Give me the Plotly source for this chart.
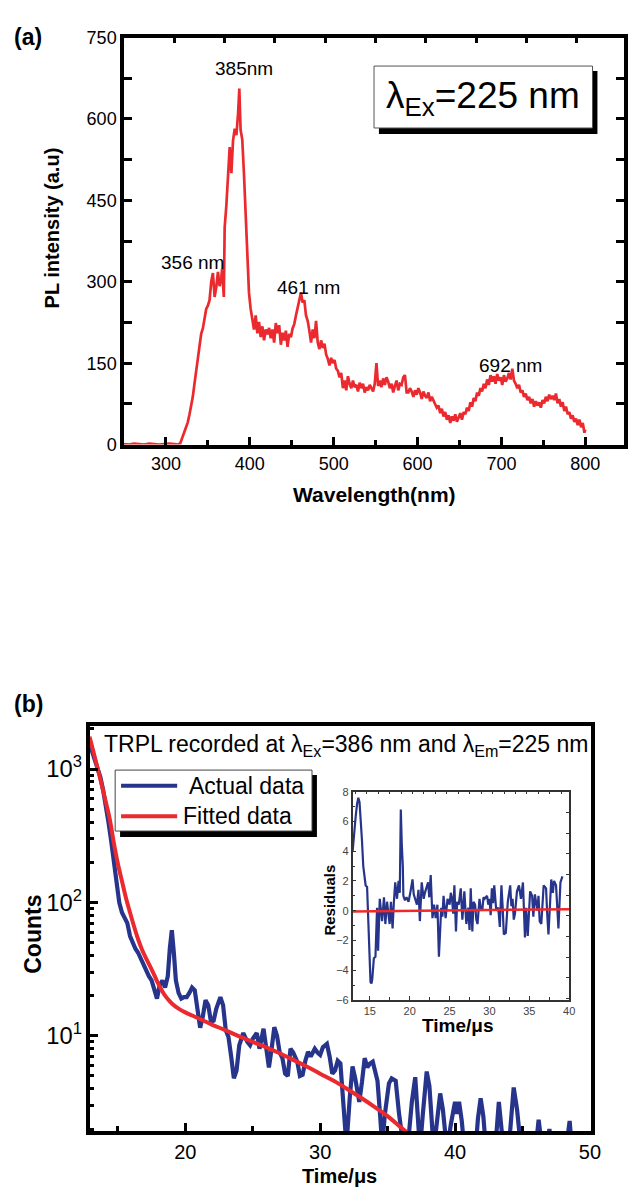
import plotly.graph_objects as go

W, H = 635, 1197
FONT = "Liberation Sans, Arial, sans-serif"

# ---------------- (a) PL emission spectrum, excitation at 225 nm ----------------
pl_spectrum = [
    (250, 1), (256, 0), (262, 2), (268, 1), (274, 0), (280, 2), (286, 1), (292, 0),
    (298, 1), (304, 2), (310, 1), (314, 0), (317, 2),
    (320, 14), (322, 24), (324, 33), (326, 41), (328, 55), (330, 70), (332, 88),
    (334, 112), (336, 136), (338, 166), (340, 188), (342, 204), (344, 214), (346, 236),
    (348, 250), (350, 256), (352, 266), (354, 300), (356, 316), (358, 272), (360, 290),
    (362, 318), (364, 292), (366, 308), (367, 324), (369, 272), (370, 400), (372, 440),
    (374, 486), (376, 548), (378, 500), (380, 560), (382, 582), (384, 570), (386, 610),
    (387.5, 656), (389, 580), (391, 562), (393, 500), (395, 420), (397, 360), (399, 280),
    (401, 250), (403, 232), (405, 212), (407, 238), (409, 205), (411, 226), (413, 198),
    (415, 218), (417, 192), (419, 212), (421, 203), (423, 215), (425, 196), (427, 212),
    (429, 188), (431, 224), (433, 205), (435, 220), (437, 184), (439, 206), (441, 192),
    (443, 210), (445, 180), (447, 204), (449, 198), (451, 214), (453, 222), (455, 238),
    (457, 252), (459, 262), (461, 280), (463, 262), (465, 266), (467, 238), (469, 228),
    (471, 210), (473, 188), (475, 212), (477, 196), (479, 228), (481, 188), (483, 176),
    (485, 192), (487, 178), (489, 186), (491, 166), (493, 158), (495, 146), (497, 160),
    (499, 150), (501, 156), (503, 140), (505, 136), (507, 124), (509, 132), (511, 104),
    (513, 118), (515, 100), (517, 126), (519, 112), (521, 104), (523, 118), (525, 106),
    (527, 110), (529, 98), (531, 114), (533, 104), (535, 112), (537, 96), (539, 106),
    (541, 100), (543, 110), (545, 104), (547, 98), (549, 112), (551, 150), (553, 108),
    (555, 118), (557, 106), (559, 122), (561, 110), (563, 124), (565, 116), (567, 104),
    (569, 112), (571, 96), (573, 108), (575, 118), (577, 100), (579, 112), (581, 110),
    (583, 124), (585, 128), (587, 96), (589, 96), (591, 104), (593, 98), (595, 88),
    (597, 100), (599, 92), (601, 104), (603, 96), (605, 84), (607, 98), (609, 90),
    (611, 86), (613, 96), (615, 80), (617, 88), (619, 82), (621, 76), (623, 68),
    (625, 72), (627, 58), (629, 66), (631, 52), (633, 60), (635, 46), (637, 54),
    (639, 40), (641, 52), (643, 44), (645, 56), (647, 42), (649, 50), (651, 58),
    (653, 46), (655, 60), (657, 56), (659, 68), (661, 62), (663, 78), (665, 70),
    (667, 86), (669, 80), (671, 96), (673, 90), (675, 104), (677, 98), (679, 112),
    (681, 104), (683, 120), (685, 110), (687, 128), (689, 116), (691, 126), (693, 112),
    (695, 130), (697, 118), (699, 124), (701, 110), (703, 128), (705, 116), (707, 122),
    (709, 132), (711, 120), (713, 140), (715, 118), (717, 112), (719, 104), (721, 110),
    (723, 96), (725, 100), (727, 88), (729, 94), (731, 82), (733, 88), (735, 76),
    (737, 84), (739, 70), (741, 80), (743, 72), (745, 78), (747, 68), (749, 82),
    (751, 76), (753, 88), (755, 80), (757, 92), (759, 84), (761, 90), (763, 82),
    (765, 94), (767, 76), (769, 84), (771, 70), (773, 78), (775, 62), (777, 70),
    (779, 56), (781, 60), (783, 48), (785, 54), (787, 42), (789, 48), (791, 36),
    (793, 46), (795, 32), (797, 40), (799, 22), (800, 28),
]
wavelength_nm = [p[0] for p in pl_spectrum]
pl_intensity = [p[1] for p in pl_spectrum]

peak_labels = ["385nm", "356 nm", "461 nm", "692 nm"]

# ---------------- (b) TRPL decay ----------------
trpl_actual = [
    (12.9, 1550), (13.1, 1350), (13.3, 1120), (13.5, 980), (13.7, 870), (13.9, 700),
    (14.1, 550), (14.3, 400), (14.5, 290), (14.7, 200), (14.9, 130), (15.1, 100),
    (15.3, 84), (15.5, 76), (15.7, 70), (15.9, 56), (16.1, 49), (16.3, 45), (16.5, 42),
    (16.7, 38), (16.9, 34), (17.1, 30), (17.3, 28), (17.5, 26), (17.7, 22), (17.9, 19),
    (18.1, 24), (18.3, 26), (18.5, 23), (18.7, 28), (18.85, 45), (19.0, 62), (19.15, 42),
    (19.3, 26), (19.5, 21), (19.7, 19), (19.9, 19.5), (20.1, 19.5), (20.3, 21), (20.5, 23),
    (20.7, 22), (20.9, 15), (21.1, 11.5), (21.3, 14), (21.5, 18.5), (21.7, 17), (21.9, 12.8),
    (22.1, 13), (22.3, 16), (22.6, 19.5), (22.8, 17), (23.0, 11), (23.2, 9.8), (23.4, 7),
    (23.6, 4.8), (23.8, 5.5), (24.0, 8.5), (24.3, 10.5), (24.6, 9), (24.8, 8.5), (25.0, 9.5),
    (25.3, 10.5), (25.5, 8), (25.8, 11.3), (26.0, 8), (26.2, 5.8), (26.4, 8), (26.6, 11.6),
    (26.8, 10), (27.0, 7.5), (27.2, 6.8), (27.4, 5.2), (27.6, 5), (27.8, 8), (28.0, 7.5),
    (28.3, 6.4), (28.5, 5), (28.7, 5.1), (28.9, 6.5), (29.1, 7.6), (29.3, 7), (29.6, 8),
    (29.8, 7.5), (30.0, 7.2), (30.2, 8.2), (30.5, 8.7), (30.7, 7), (30.9, 5.2), (31.1, 5.5),
    (31.3, 6.5), (31.5, 6.2), (31.7, 3.5), (31.95, 1.5), (32.2, 3.5), (32.4, 5.9), (32.6, 4.8),
    (32.9, 3.2), (33.1, 4.5), (33.3, 6.8), (33.5, 5.8), (33.7, 6.2), (33.9, 6.4), (34.1, 5.2),
    (34.25, 4.6), (34.45, 2.5), (34.6, 1.5), (34.8, 2.6), (35.1, 4.4), (35.3, 4.8), (35.6, 4.6),
    (35.85, 2.6), (36.1, 1.5), (36.3, 1.2), (36.5, 1.5), (36.8, 3.2), (37.05, 4.9), (37.25, 2.8),
    (37.4, 1.4), (37.6, 2.5), (37.9, 5.4), (38.1, 4.2), (38.4, 1.5), (38.6, 2.0), (38.9, 3.7),
    (39.1, 2.8), (39.4, 1.4), (39.7, 2.2), (40.0, 3.2), (40.15, 2.6), (40.3, 3.2), (40.5, 2.3),
    (40.7, 1.4), (41.0, 1.2), (41.5, 1.3), (41.7, 2.4), (41.9, 3.4), (42.1, 2.5), (42.3, 1.4),
    (42.7, 1.2), (43.0, 1.5), (43.25, 3.2), (43.45, 2.2), (43.6, 1.4), (44.0, 1.5), (44.2, 3.0),
    (44.35, 4.1), (44.6, 2.8), (44.9, 1.4), (45.3, 1.2), (45.8, 1.3), (46.0, 1.5), (46.2, 2.35),
    (46.4, 1.6), (46.6, 1.2), (46.8, 1.5), (47.0, 2.0), (47.2, 1.4), (47.6, 1.2), (48.0, 1.3),
    (48.3, 1.6), (48.5, 2.3), (48.7, 1.3),
]
time_us = [p[0] for p in trpl_actual]
counts_actual = [p[1] for p in trpl_actual]

trpl_fit = [
    (12.9, 1750), (13.2, 1330), (13.5, 1010), (13.8, 760), (14.1, 570), (14.4, 420),
    (14.7, 280), (15.0, 195), (15.3, 145), (15.6, 108), (15.9, 84), (16.2, 66), (16.5, 53),
    (16.8, 44), (17.1, 38), (17.4, 33), (17.7, 28.5), (18.0, 24.5), (18.5, 20), (19.0, 17.5),
    (19.5, 16), (20, 15), (21, 13.5), (22, 12.1), (23, 11), (24, 9.9), (25, 9.0), (26, 8.2),
    (27, 7.4), (28, 6.6), (29, 5.9), (30, 5.2), (31, 4.6), (32, 4.0), (33, 3.45), (34, 2.95),
    (35, 2.5), (36, 2.05), (37, 1.7),
]
time_fit_us = [p[0] for p in trpl_fit]
counts_fit = [p[1] for p in trpl_fit]

series_names = ["Actual data", "Fitted data"]

# ---------------- residuals of the fit (inset) ----------------
residual_points = [
    (12.84, 4.0), (13.0, 5.2), (13.23, 6.4), (13.4, 7.2), (13.55, 7.6), (13.7, 7.3),
    (13.85, 6.3), (14.0, 4.8), (14.17, 3.0), (14.3, 2.2), (14.47, 1.7), (14.65, 1.6),
    (14.8, -1.0), (14.95, -3.8), (15.08, -4.8), (15.2, -4.9), (15.3, -4.6), (15.5, -3.2),
    (15.7, -3.1), (15.9, 0.2), (16.03, -2.7), (16.24, 0.8), (16.4, -0.3), (16.53, -0.7),
    (16.77, 0.9), (16.94, -0.9), (17.15, 0.6), (17.3, -0.2), (17.48, -0.9), (17.64, 0.6),
    (17.85, -1.2), (18.0, 0.5), (18.18, 1.9), (18.4, 0.8), (18.6, 2.0), (18.75, 1.2),
    (18.88, 6.8), (19.0, 4.5), (19.13, 3.0), (19.2, 1.0), (19.4, 0.7), (19.6, 0.9),
    (19.85, 0.6), (20.1, 1.3), (20.35, 2.1), (20.5, 1.1), (20.7, 0.8), (20.9, 0.4),
    (21.1, 1.4), (21.27, -0.7), (21.5, 1.9), (21.75, 0.8), (21.9, 1.2), (22.1, 1.5),
    (22.3, 1.9), (22.45, 0.9), (22.63, 2.4), (22.85, -0.5), (23.05, 0.4), (23.26, -0.5),
    (23.47, 0.4), (23.66, -3.1), (23.8, -1.0), (23.95, 0.2), (24.1, -0.4), (24.24, 1.0),
    (24.5, -0.5), (24.74, 0.8), (25.0, 0.4), (25.15, 1.2), (25.3, 0.8), (25.45, -0.2),
    (25.6, 1.7), (25.8, -1.4), (25.95, 0.6), (26.15, 0.4), (26.4, 1.5), (26.6, -0.6),
    (26.85, 1.3), (27.1, -0.9), (27.35, 0.2), (27.5, -1.3), (27.65, 1.5), (27.85, -1.4),
    (28.0, 0.6), (28.2, 0.4), (28.35, -0.6), (28.5, -0.9), (28.75, 0.8), (28.9, 0.2),
    (29.1, 0.0), (29.25, 0.9), (29.4, 0.8), (29.7, 1.0), (29.85, 0.4), (30.0, 0.8),
    (30.15, -0.3), (30.3, 1.5), (30.45, 0.5), (30.6, 1.7), (30.85, 0.0), (31.1, 0.2),
    (31.3, -1.1), (31.5, 1.7), (31.65, 0.3), (31.8, -1.6), (32.05, -1.5), (32.3, 0.6),
    (32.6, 1.7), (32.75, 0.3), (32.9, 0.8), (33.05, -0.6), (33.2, -0.2), (33.45, 1.3),
    (33.7, 1.7), (33.95, 0.8), (34.2, 1.9), (34.45, -1.8), (34.6, 0.2), (34.8, -1.7),
    (35.1, 1.3), (35.35, 1.0), (35.5, -0.4), (35.7, 1.1), (36.0, 0.0), (36.15, 1.0),
    (36.3, -0.7), (36.5, -0.9), (36.8, 1.7), (37.1, 1.5), (37.25, -0.3), (37.4, -1.6),
    (37.6, 0.5), (37.75, 2.1), (37.95, 1.2), (38.1, 2.0), (38.35, 1.7), (38.5, 0.4),
    (38.65, -1.2), (38.9, 1.9), (39.15, 2.3),
]
time_res_us = [p[0] for p in residual_points]
residuals = [p[1] for p in residual_points]
time_res_fit_us = [12.84, 40.0]
residual_fit = [-0.05, 0.1]

RED = "#ea2a2e"
NAVY = "#27348b"


def fx(x):
    return x / W


def fy(y):
    return 1 - y / H


fig = go.Figure()

# spectrum
fig.add_trace(go.Scatter(x=wavelength_nm, y=pl_intensity, mode="lines",
                         line=dict(color=RED, width=2.7), xaxis="x", yaxis="y",
                         showlegend=False))
# carrier for the top tick row of panel (a)
fig.add_trace(go.Scatter(x=[], y=[], xaxis="x2", yaxis="y", showlegend=False))

# decay curves
fig.add_trace(go.Scatter(x=time_us, y=counts_actual, mode="lines", name=series_names[0],
                         line=dict(color=NAVY, width=4.2), xaxis="x3", yaxis="y3",
                         showlegend=False))
fig.add_trace(go.Scatter(x=time_fit_us, y=counts_fit, mode="lines", name=series_names[1],
                         line=dict(color=RED, width=4, shape="spline"), xaxis="x3",
                         yaxis="y3", showlegend=False))

# residuals inset
fig.add_trace(go.Scatter(x=time_res_us, y=residuals, mode="lines",
                         line=dict(color=NAVY, width=2.2), xaxis="x4", yaxis="y4",
                         showlegend=False))
fig.add_trace(go.Scatter(x=time_res_fit_us, y=residual_fit, mode="lines",
                         line=dict(color="#f02828", width=2.5), xaxis="x4", yaxis="y4",
                         showlegend=False))
fig.add_trace(go.Scatter(x=[], y=[], xaxis="x5", yaxis="y4", showlegend=False))
fig.add_trace(go.Scatter(x=[], y=[], xaxis="x4", yaxis="y5", showlegend=False))

base_axis = dict(showgrid=False, zeroline=False, showline=True, linecolor="black",
                 ticks="inside", tickcolor="black", tickfont=dict(family=FONT, color="black"))

A_RANGE = [250, 846.2]
B_RANGE = [12.9, 50.05]
I_RANGE = [12.84, 40.0]

fig.update_layout(
    width=W, height=H,
    margin=dict(l=0, r=0, t=0, b=0),
    paper_bgcolor="white", plot_bgcolor="rgba(0,0,0,0)",
    font=dict(family=FONT, color="black"),
    showlegend=False,
    # panel (a)
    xaxis=dict(base_axis, domain=[fx(126), fx(634)], range=A_RANGE, anchor="y",
               linewidth=3.5, tick0=0, dtick=100, ticklen=8, tickwidth=2.5,
               tickfont=dict(family=FONT, size=18, color="black"),
               minor=dict(tick0=0, dtick=50, ticks="inside", ticklen=5, tickwidth=2.5,
                          tickcolor="black", showgrid=False)),
    xaxis2=dict(base_axis, overlaying="x", side="top", anchor="y", range=A_RANGE,
                linewidth=3.5, tick0=310, dtick=60, ticklen=6, tickwidth=2.5,
                showticklabels=False),
    yaxis=dict(base_axis, domain=[fy(442), fy(28)], range=[0, 750], anchor="x",
               linewidth=3.5, mirror="allticks", tick0=0, dtick=150, ticklen=8,
               tickwidth=2.5, tickfont=dict(family=FONT, size=18, color="black"),
               minor=dict(tick0=0, dtick=75, ticks="inside", ticklen=5, tickwidth=2.5,
                          tickcolor="black", showgrid=False)),
    # panel (b)
    xaxis3=dict(base_axis, domain=[fx(91), fx(600)], range=B_RANGE, anchor="y3",
                linewidth=3.5, mirror=True, tick0=0, dtick=10, ticklen=8, tickwidth=2.5,
                tickfont=dict(family=FONT, size=20, color="black"),
                minor=dict(tick0=0, dtick=5, ticks="inside", ticklen=5, tickwidth=2.5,
                           tickcolor="black", showgrid=False)),
    yaxis3=dict(base_axis, type="log", domain=[fy(1140), fy(728)], range=[0.287, 3.324],
                anchor="x3", linewidth=3.5, mirror=True, tick0=0, dtick=1,
                exponentformat="power", labelalias={"10": "10<sup>1</sup>"},
                ticklen=9, tickwidth=2.5,
                tickfont=dict(family=FONT, size=19, color="black"),
                minor=dict(dtick="D1", ticks="inside", ticklen=5, tickwidth=2.5,
                           tickcolor="black", showgrid=False)),
    # residuals inset
    xaxis4=dict(base_axis, domain=[fx(358.3), fx(578.3)], range=I_RANGE, anchor="y4",
                linewidth=1.5, linecolor="#333", tickcolor="#333", tick0=0, dtick=5,
                ticklen=4, tickwidth=1.2,
                tickfont=dict(family=FONT, size=11, color="#444"),
                minor=dict(tick0=0, dtick=2.5, ticks="inside", ticklen=3, tickwidth=1.2,
                           tickcolor="#333", showgrid=False)),
    xaxis5=dict(base_axis, overlaying="x4", side="top", anchor="y4", range=I_RANGE,
                linewidth=1.5, linecolor="#333", tickcolor="#333", tick0=14.6, dtick=1.436,
                ticklen=3, tickwidth=1.2, showticklabels=False),
    yaxis4=dict(base_axis, domain=[fy(1006.7), fy(795)], range=[-6, 8], anchor="x4",
                linewidth=1.5, linecolor="#333", tickcolor="#333", tick0=0, dtick=2,
                ticklen=4, tickwidth=1.2,
                tickfont=dict(family=FONT, size=11, color="#444"),
                minor=dict(tick0=0, dtick=1, ticks="inside", ticklen=3, tickwidth=1.2,
                           tickcolor="#333", showgrid=False)),
    yaxis5=dict(base_axis, overlaying="y4", side="right", anchor="x4", range=[-6, 8],
                linewidth=1.5, linecolor="#333", tickcolor="#333", tick0=6.61, dtick=1.39,
                ticklen=3, tickwidth=1.2, showticklabels=False),
)

shapes = [
    # shadowed box around the excitation label in (a)
    dict(type="rect", xref="paper", yref="paper", x0=fx(385), x1=fx(607), y0=fy(126), y1=fy(62),
         fillcolor="black", line=dict(width=0)),
    dict(type="rect", xref="paper", yref="paper", x0=fx(380), x1=fx(602), y0=fy(120), y1=fy(57),
         fillcolor="white", line=dict(color="#555", width=1)),
    # legend frame with drop shadow in (b)
    dict(type="rect", xref="paper", yref="paper", x0=fx(122), x1=fx(322), y0=fy(841), y1=fy(778),
         fillcolor="black", line=dict(width=0)),
    dict(type="rect", xref="paper", yref="paper", x0=fx(117), x1=fx(317), y0=fy(835), y1=fy(773),
         fillcolor="white", line=dict(color="#444", width=1)),
    # legend keys
    dict(type="line", xref="paper", yref="paper", x0=fx(123), x1=fx(180), y0=fy(789), y1=fy(789),
         line=dict(color=NAVY, width=4)),
    dict(type="line", xref="paper", yref="paper", x0=fx(123), x1=fx(180), y0=fy(820), y1=fy(820),
         line=dict(color=RED, width=4)),
]
fig.update_layout(shapes=shapes)


def label(text, x, y, size, bold=False, angle=0, xanchor="center", color="black"):
    return dict(text=f"<b>{text}</b>" if bold else text, x=fx(x), y=fy(y),
                xref="paper", yref="paper", xanchor=xanchor, yanchor="middle",
                showarrow=False, textangle=angle,
                font=dict(family=FONT, size=size, color=color))


annotations = [
    label("(a)", 28, 27, 23, bold=True),
    label("(b)", 29, 706, 23, bold=True),
    label(peak_labels[0], 248, 59, 19),
    label(peak_labels[1], 196, 257, 19),
    label(peak_labels[2], 313, 282, 19),
    label(peak_labels[3], 519, 362, 19),
    label("λ<sub>Ex</sub>=225 nm", 491, 89, 37),
    label("PL intensity (a.u)", 53, 222, 20, bold=True, angle=-90),
    label("Wavelength(nm)", 380, 493, 21, bold=True),
    label("TRPL recorded at λ<sub>Ex</sub>=386 nm and λ<sub>Em</sub>=225 nm", 104, 748, 23,
          xanchor="left"),
    label(series_names[0], 190, 789, 23, xanchor="left"),
    label(series_names[1], 184, 820, 23, xanchor="left"),
    label("Counts", 34, 940, 23, bold=True, angle=-90),
    label("Time/μs", 345, 1186, 20, bold=True),
    label("Residuals", 335, 905, 15, bold=True, angle=-90),
    label("Time/μs", 465, 1033, 19, bold=True),
]
fig.update_layout(annotations=annotations)

fig.write_html("out.html")
